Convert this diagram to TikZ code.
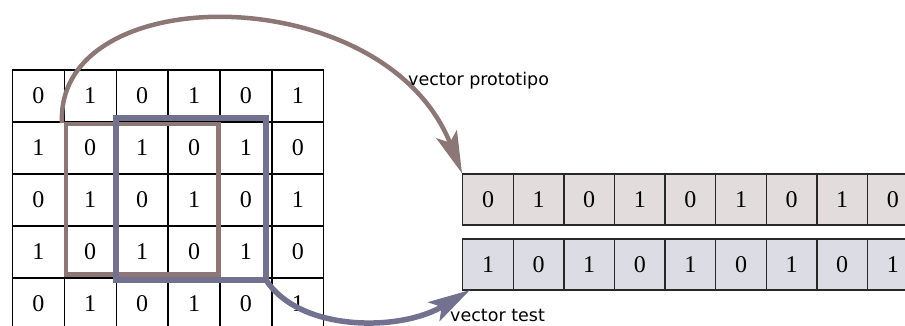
\documentclass[tikz,border=0pt]{standalone}
\usepackage{fontspec}
\setmainfont{Liberation Serif}
\newfontfamily\labelfont{DejaVu Sans}
\usetikzlibrary{arrows.meta}
\definecolor{windowbrown}{RGB}{141,118,118}
\definecolor{windowblue}{RGB}{114,114,144}
\definecolor{protofill}{RGB}{227,220,220}
\definecolor{testfill}{RGB}{220,220,228}
\definecolor{cellline}{RGB}{40,40,40}
\begin{document}
\begin{tikzpicture}[x=1pt,y=-1pt,
  digit/.style={font=\fontsize{24}{24}\selectfont},
  gridcell/.style={digit, draw=black, line width=1.3pt, minimum width=51.9pt,
    minimum height=52pt, inner sep=0pt, anchor=north west},
  veccell/.style={digit, draw=cellline, line width=1.4pt, minimum width=50.6pt,
    minimum height=50.8pt, inner sep=0pt, anchor=north west},
  label/.style={font=\labelfont\fontsize{17.5}{17.5}\selectfont, inner sep=0pt,
    anchor=base west},
  window/.style={line width=#1, line join=miter},
  bigarrow/.style={line width=#1, -{Stealth[length=42pt,width=22pt,inset=9pt]}},
]
\useasboundingbox (0,0) rectangle (905,325);
\clip (0,0) rectangle (905,325);

% input matrix, 6 columns by 5 rows of alternating bits
\foreach \r in {0,...,4}
  \foreach \c in {0,...,5} {
    \pgfmathtruncatemacro\bit{mod(\r+\c,2)}
    \node[gridcell] (g-\r-\c) at (11.7+51.9*\c, 69.3+52*\r) {\bit};
  }

% shadows under the two vectors
\fill[black!12] (463.5,175) rectangle (912,225.8);
\fill[black!12] (463.5,240) rectangle (912,290.8);

% prototype vector and test vector
\foreach \i in {0,...,8} {
  \pgfmathtruncatemacro\pbit{mod(\i,2)}
  \pgfmathtruncatemacro\tbit{1-mod(\i,2)}
  \node[veccell, fill=protofill] (p-\i) at (462+50.6*\i, 173.3) {\pbit};
  \node[veccell, fill=testfill] (t-\i) at (462+50.6*\i, 238.4) {\tbit};
}

% the two 3x3 windows over the matrix
\coordinate (bw-nw) at (66,124);
\coordinate (bw-se) at (218.5,274.7);
\coordinate (uw-nw) at (116.3,118);
\coordinate (uw-se) at (266.3,279.7);
\draw[windowbrown, window=4.5pt] (bw-nw) rectangle (bw-se);
\draw[windowblue, window=6pt] (uw-nw) rectangle (uw-se);

% arrows from each window to its vector
\coordinate (bw-start) at (62,123);
\draw[windowbrown, bigarrow=4.5pt] (bw-start)
  .. controls (55,-22) and (385,-22) .. (p-0.north west);
\coordinate (uw-start) at (266,280);
\coordinate (uw-end) at (470,290);
\draw[windowblue, bigarrow=5.5pt] (uw-start)
  .. controls (300,332) and (400,332) .. (uw-end);

\node[label] (lbl-proto) at (408,85) {vector prototipo};
\node[label] (lbl-test) at (450,321) {vector test};
\end{tikzpicture}
\end{document}
